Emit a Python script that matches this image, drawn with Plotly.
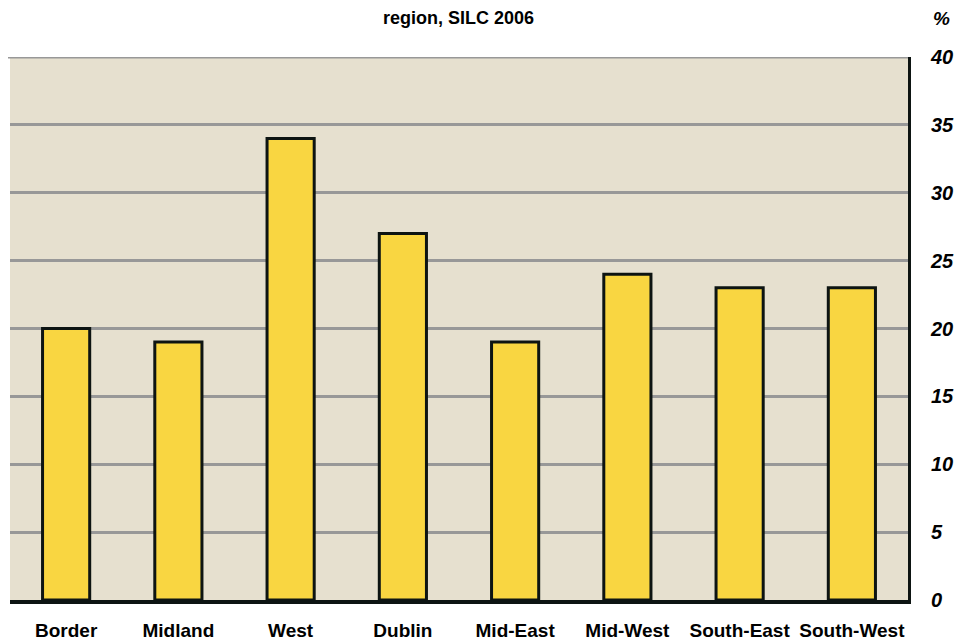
import plotly.graph_objects as go

regions = ["Border", "Midland", "West", "Dublin", "Mid-East", "Mid-West", "South-East", "South-West"]
values = [20, 19, 34, 27, 19, 24, 23, 23]
tick_vals = [0, 5, 10, 15, 20, 25, 30, 35, 40]

# page has an 8px body margin; figure is sized/offset to compensate
OFF = 8
W, H = 963 - OFF, 640 - OFF
L, T = 10 - OFF, 57 - OFF
R = W - (908 - OFF)
B = H - (600 - OFF)

fig = go.Figure()
fig.add_trace(go.Bar(
    x=regions, y=values,
    marker=dict(color="#F9D641", line=dict(color="#0d1412", width=3)),
    width=0.42,
))

fig.update_layout(
    width=W, height=H,
    margin=dict(l=L, r=R, t=T, b=B, autoexpand=False),
    paper_bgcolor="white",
    plot_bgcolor="#E6E0CF",
    showlegend=False,
    font=dict(family="Liberation Sans, Arial, sans-serif", color="black"),
    xaxis=dict(
        showgrid=False, showline=True, linecolor="#0d1412", linewidth=4,
        tickfont=dict(size=19, family="Liberation Sans, Arial, sans-serif", weight="bold"),
        ticklabelstandoff=10, ticks="", automargin=False,
    ),
    yaxis=dict(
        side="right", range=[0, 40], tickvals=tick_vals,
        showgrid=True, gridcolor="#989898", gridwidth=3,
        showline=True, linecolor="#0d1412", linewidth=3,
        zeroline=False, ticks="", automargin=False,
        tickfont=dict(size=20, family="Liberation Sans, Arial, sans-serif", weight="bold", style="italic"),
        ticklabelstandoff=16,
    ),
    shapes=[dict(type="line", xref="paper", yref="y", x0=-0.003, x1=1, y0=40, y1=40,
                 line=dict(color="#989898", width=3), layer="below")],
)

pw = W - L - R
ph = H - T - B
def ann(text, px, py, size):
    # px, py are window pixel coordinates
    fx, fy = px - OFF, py - OFF
    fig.add_annotation(text=text, x=(fx - L) / pw, y=(H - B - fy) / ph,
                       xref="paper", yref="paper", xanchor="center", yanchor="middle",
                       showarrow=False, font=dict(size=size))

ann("<b>region, SILC 2006</b>", 458, 18, 18)
ann("<b><i>%</i></b>", 941, 19, 19)

fig.write_html("out.html")
